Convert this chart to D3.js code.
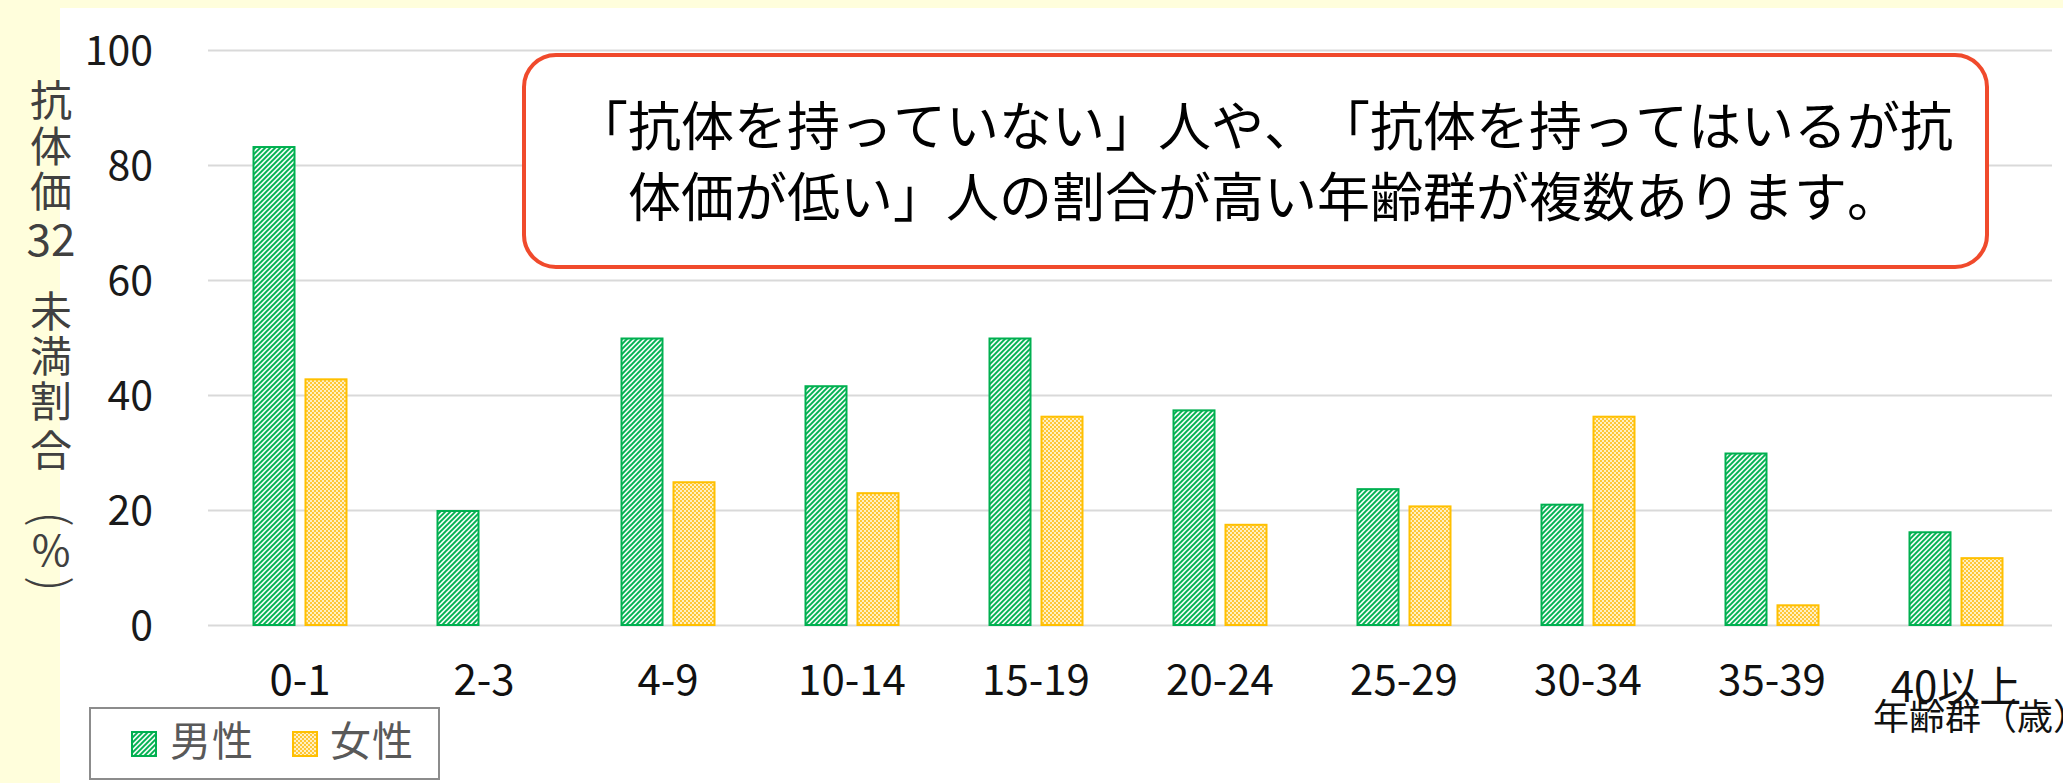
<!DOCTYPE html>
<html>
<head>
<meta charset="utf-8">
<script src="https://cdn.jsdelivr.net/npm/d3@7"></script>
<style>
  html, body { margin: 0; padding: 0; background: #FFFEDC; }
  svg { display: block; }
  text { font-family: "Noto Sans CJK JP", "Noto Sans", sans-serif; text-spacing-trim: space-all; font-kerning: none; }
</style>
</head>
<body>
<svg id="chart" width="2063" height="783"></svg>
<script>
// ---- data ----
const categories = ["0-1", "2-3", "4-9", "10-14", "15-19", "20-24", "25-29", "30-34", "35-39", "40以上"];
const seriesNames = ["男性", "女性"];
const maleValues = [83.3, 20.0, 50.0, 41.7, 50.0, 37.5, 23.8, 21.1, 30.0, 16.3];
const femaleValues = [42.9, 0, 25.0, 23.1, 36.4, 17.6, 20.8, 36.4, 3.6, 11.8];
const yTickValues = [0, 20, 40, 60, 80, 100];
const yTitleChars = ["抗", "体", "価", "32", "未", "満", "割", "合", "(", "%", ")"];
const xTitle = "年齢群（歳）";
const calloutLines = ["「抗体を持っていない」人や、「抗体を持ってはいるが抗", "体価が低い」人の割合が高い年齢群が複数あります。"];

const W = 2063, H = 783;
const svg = d3.select("#chart");

// patterns
const defs = svg.append("defs");
const pm = defs.append("pattern").attr("id", "maleFill")
  .attr("patternUnits", "userSpaceOnUse").attr("width", 5).attr("height", 5);
pm.append("rect").attr("width", 5).attr("height", 5).attr("fill", "#F0FBF4");
pm.append("path").attr("d", "M0,5 L5,0 M-1,1 L1,-1 M4,6 L6,4")
  .attr("stroke", "#00B050").attr("stroke-width", 1.9);

const pf = defs.append("pattern").attr("id", "femaleFill")
  .attr("patternUnits", "userSpaceOnUse").attr("width", 4).attr("height", 4);
pf.append("rect").attr("width", 4).attr("height", 4).attr("fill", "#FFF0C4");
pf.append("rect").attr("x", 0).attr("y", 0).attr("width", 2).attr("height", 2).attr("fill", "#FFC736");
pf.append("rect").attr("x", 2).attr("y", 2).attr("width", 2).attr("height", 2).attr("fill", "#FFC736");

// background panel
svg.append("rect").attr("x", 0).attr("y", 0).attr("width", W).attr("height", H).attr("fill", "#FFFEDC");
svg.append("rect").attr("x", 60).attr("y", 8).attr("width", W - 60).attr("height", H - 8).attr("fill", "#FFFFFF");

// scales
const plotLeft = 208, plotRight = 2048, plotTop = 50, plotBottom = 625;
const x0 = d3.scaleBand().domain(categories).range([plotLeft, plotRight]).paddingInner(0).paddingOuter(0);
const x1 = d3.scaleBand().domain(seriesNames).range([44.5, 139.5]).paddingInner(0.173).paddingOuter(0);
const y = d3.scaleLinear().domain([0, 100]).range([plotBottom, plotTop]);

// gridlines
const grid = svg.append("g").attr("transform", `translate(${plotLeft},0)`)
  .call(d3.axisLeft(y).tickValues(yTickValues).tickSize(-(plotRight - plotLeft + 4)).tickFormat(""));
grid.select(".domain").remove();
grid.selectAll("line").attr("stroke", "#D9D9D9").attr("stroke-width", 2);

// y axis labels
const yAxis = svg.append("g").attr("transform", `translate(${plotLeft},0)`)
  .call(d3.axisLeft(y).tickValues(yTickValues).tickSize(0).tickPadding(55));
yAxis.select(".domain").remove();
yAxis.selectAll("text").attr("font-size", 41).attr("fill", "#1a1a1a")
  .attr("font-family", "'Noto Sans CJK JP', sans-serif").attr("dy", "0.35em");

// bars
const data = categories.map((c, i) => ({ cat: c, vals: [
  { s: seriesNames[0], v: maleValues[i] },
  { s: seriesNames[1], v: femaleValues[i] }
]}));
const groups = svg.append("g").selectAll("g").data(data).join("g")
  .attr("transform", d => `translate(${x0(d.cat)},0)`);
groups.selectAll("rect").data(d => d.vals.filter(e => e.v > 0)).join("rect")
  .attr("x", d => x1(d.s) + 1)
  .attr("width", x1.bandwidth() - 2)
  .attr("y", d => y(d.v) + 1)
  .attr("height", d => y(0) - y(d.v) - 1)
  .attr("fill", d => d.s === seriesNames[0] ? "url(#maleFill)" : "url(#femaleFill)")
  .attr("stroke", d => d.s === seriesNames[0] ? "#00B050" : "#FFC000")
  .attr("stroke-width", 2);

// x axis labels
const xAxis = svg.append("g").attr("transform", `translate(0,${plotBottom})`)
  .call(d3.axisBottom(x0).tickSize(0));
xAxis.select(".domain").remove();
xAxis.selectAll("text").attr("font-size", 42).attr("fill", "#111")
  .attr("font-family", "'Noto Sans CJK JP', sans-serif")
  .attr("y", (d, i) => i === categories.length - 1 ? 62 : 55).attr("dy", "0.35em");

// x axis title
svg.append("text").attr("x", 1873).attr("y", 717).attr("dy", "0.35em")
  .attr("font-size", 36).attr("fill", "#111").text(xTitle);

// y axis title (vertical)
const yTitlePos = [101, 147, 192, 241, 312, 357, 402, 451, 519, 551, 584];
const yt = svg.append("g").attr("fill", "#404040");
yTitleChars.forEach((ch, i) => {
  const cy = yTitlePos[i];
  const t = yt.append("text").attr("x", 51).attr("y", cy).attr("text-anchor", "middle")
    .attr("dy", "0.35em").attr("font-size", ch === "32" ? 44 : 42).text(ch);
  if (ch === "(" || ch === ")") {
    t.attr("font-size", 48).attr("font-weight", 300).attr("transform", `rotate(90,51,${cy})`);
  }
});

// legend
const lg = svg.append("g");
lg.append("rect").attr("x", 90).attr("y", 708).attr("width", 349).attr("height", 71)
  .attr("fill", "#fff").attr("stroke", "#8C8C8C").attr("stroke-width", 2);
const legendItems = [
  { name: seriesNames[0], sx: 131, tx: 170, fill: "url(#maleFill)", stroke: "#00B050" },
  { name: seriesNames[1], sx: 292, tx: 330, fill: "url(#femaleFill)", stroke: "#FFC000" }
];
legendItems.forEach(it => {
  lg.append("rect").attr("x", it.sx + 1).attr("y", 732).attr("width", 24).attr("height", 24)
    .attr("fill", it.fill).attr("stroke", it.stroke).attr("stroke-width", 2);
  lg.append("text").attr("x", it.tx).attr("y", 742).attr("dy", "0.35em")
    .attr("font-size", 41).attr("fill", "#595959").attr("letter-spacing", 1).text(it.name);
});

// callout
svg.append("rect").attr("x", 524).attr("y", 55).attr("width", 1463).attr("height", 212)
  .attr("rx", 32).attr("ry", 32)
  .attr("fill", "#FFFFFF").attr("stroke", "#F04A2C").attr("stroke-width", 4);
const lineY = [127, 198];
calloutLines.forEach((ln, i) => {
  svg.append("text").attr("x", 1264).attr("y", lineY[i]).attr("dy", "0.35em")
    .attr("text-anchor", "middle").attr("font-size", 53).attr("fill", "#000").text(ln);
});
</script>
</body>
</html>
